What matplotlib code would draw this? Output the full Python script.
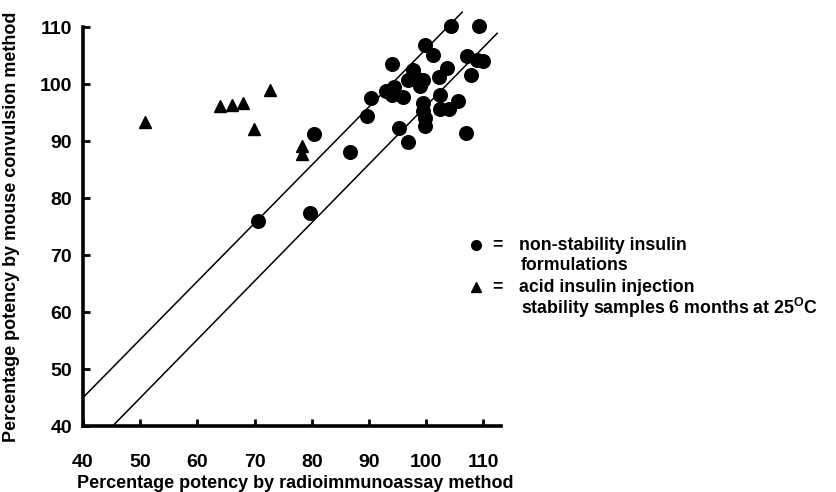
import matplotlib
matplotlib.use("Agg")
import matplotlib.pyplot as plt
import numpy as np

plt.rcParams['font.family'] = ['Liberation Sans', 'DejaVu Sans']
plt.rcParams['mathtext.fontset'] = 'custom'
plt.rcParams['mathtext.bf'] = 'Liberation Sans:bold'
plt.rcParams['mathtext.rm'] = 'Liberation Sans'

# Non-stability insulin formulations (circles)
ria_circ = [70.6, 79.7, 80.3, 86.7, 89.7, 90.3, 94.0, 93.0, 94.3, 94.0, 96.0, 95.2,
            96.9, 97.6, 96.9, 98.0, 99.5, 98.9, 99.8, 101.2, 99.5, 99.5, 99.8, 99.8,
            102.3, 103.6, 102.4, 102.4, 104.0, 105.6, 104.4, 109.3, 107.2, 108.8,
            110.0, 107.8, 106.9]
mouse_circ = [76.0, 77.3, 91.2, 88.1, 94.4, 97.6, 103.6, 98.8, 99.4, 98.1, 97.8, 92.3,
              89.8, 102.4, 100.7, 101.2, 100.7, 99.6, 106.8, 105.1, 96.6, 95.2, 94.0, 92.6,
              101.3, 102.8, 98.1, 95.7, 95.7, 97.1, 110.1, 110.2, 104.9, 104.3,
              104.0, 101.6, 91.4]

# Acid insulin injection stability samples (triangles)
ria_tri = [50.8, 64.0, 66.0, 67.9, 69.9, 72.7, 78.2, 78.2]
mouse_tri = [93.4, 96.1, 96.4, 96.6, 92.2, 98.9, 89.1, 87.7]

# Reference lines: slope, intercept, x-start, x-end
line_slopes = [1.02, 1.025]
line_intercepts = [4.2, -6.3]
line_xstart = [40.0, 45.2]
line_xend = [106.3, 112.4]

xticks = [40, 50, 60, 70, 80, 90, 100, 110]
yticks = [40, 50, 60, 70, 80, 90, 100, 110]

fig = plt.figure(figsize=(8.36, 4.92), dpi=100)
ax = fig.add_axes([0.0993, 0.134, 0.4995, 0.811])

for s, b, x0, x1 in zip(line_slopes, line_intercepts, line_xstart, line_xend):
    xs = np.array([x0, x1])
    ax.plot(xs, s * xs + b, color='black', lw=1.1, clip_on=False)

ax.plot(ria_circ, mouse_circ, 'o', color='black', ms=9.8, mec='black', clip_on=False)
ax.plot(ria_tri, mouse_tri, '^', color='black', ms=8.5, mec='black', clip_on=False)

ax.set_xlim(40, 113)
ax.set_ylim(40, 110)
ax.set_xticks(xticks)
ax.set_yticks(yticks)
ax.set_xticklabels([str(t) for t in xticks], fontsize=14, fontweight='bold')
ax.set_yticklabels([str(t) for t in yticks], fontsize=14, fontweight='bold')
ax.tick_params(direction='in', length=5, width=2)
ax.tick_params(axis='x', pad=20)
ax.tick_params(axis='y', pad=8)
for sp in ['top', 'right']:
    ax.spines[sp].set_visible(False)
for sp in ['left', 'bottom']:
    ax.spines[sp].set_linewidth(2.6)

ax.set_xlabel('Percentage potency by radioimmunoassay method', fontsize=13,
              fontweight='bold', va='center')
ax.set_ylabel('Percentage potency by mouse convulsion method', fontsize=13,
              fontweight='bold', va='center')
ax.xaxis.set_label_coords(0.508, -0.145)
ax.yaxis.set_label_coords(-0.172, 0.5)

# Legend
W, H = 836, 492
def fx(px):
    return px / W
def fy(py):
    return 1 - py / H

ax.plot([fx(476)], [fy(245)], 'o', color='black', ms=7, transform=fig.transFigure, clip_on=False)
ax.plot([fx(476)], [fy(287)], '^', color='black', ms=6.5, transform=fig.transFigure, clip_on=False)
fs = 12.8
fig.text(fx(492), fy(245), '=', fontsize=fs, fontweight='bold', va='center')
fig.text(fx(519), fy(245), 'non-stability insulin', fontsize=fs, fontweight='bold', va='center')
fig.text(fx(521), fy(266), 'formulations', fontsize=fs, fontweight='bold', va='center')
fig.text(fx(492), fy(287), '=', fontsize=fs, fontweight='bold', va='center')
fig.text(fx(519), fy(287), 'acid insulin injection', fontsize=fs, fontweight='bold', va='center')
fig.text(fx(521), fy(308), r'stability samples 6 months at 25$^{\mathbf{O}}$C', fontsize=fs,
         fontweight='bold', va='center')

fig.savefig('out.png', dpi=100)
